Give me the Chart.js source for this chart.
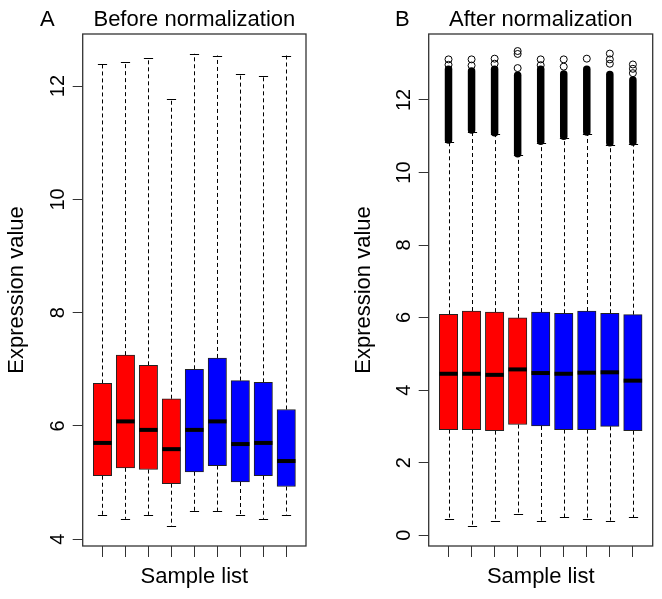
<!DOCTYPE html>
<html>
<head>
<meta charset="utf-8">
<script src="https://cdn.jsdelivr.net/npm/chart.js@4.4.0/dist/chart.umd.min.js"></script>
<style>
  html, body { margin: 0; padding: 0; background: #fff; }
  #wrap { position: relative; width: 662px; height: 599px; }
  canvas { position: absolute; top: 0; }
  #chartA { left: 0; }
  #chartB { left: 331px; }
</style>
</head>
<body>
<div id="wrap">
  <canvas id="chartA" width="331" height="599"></canvas>
  <canvas id="chartB" width="331" height="599"></canvas>
</div>
<script>
// sample positions and groups
const samples = [1, 2, 3, 4, 5, 6, 7, 8, 9]
const sampleGroup = ['case', 'case', 'case', 'case', 'control', 'control', 'control', 'control', 'control']

// A: before normalization
const lowA  = [4.43, 4.36, 4.43, 4.23, 4.50, 4.50, 4.43, 4.36, 4.43]
const q1A   = [5.12, 5.26, 5.23, 4.98, 5.19, 5.30, 5.01, 5.12, 4.93]
const medA  = [5.70, 6.08, 5.93, 5.59, 5.93, 6.08, 5.68, 5.70, 5.38]
const q3A   = [6.75, 7.25, 7.07, 6.48, 7.00, 7.20, 6.80, 6.77, 6.29]
const highA = [12.39, 12.42, 12.50, 11.78, 12.57, 12.54, 12.22, 12.18, 12.54]
const yTicksA = [4, 6, 8, 10, 12]

// B: after normalization
const lowB  = [0.44, 0.25, 0.40, 0.57, 0.40, 0.49, 0.44, 0.40, 0.49]
const q1B   = [2.91, 2.91, 2.88, 3.05, 3.01, 2.91, 2.91, 3.00, 2.88]
const medB  = [4.45, 4.45, 4.42, 4.57, 4.47, 4.45, 4.48, 4.49, 4.26]
const q3B   = [6.09, 6.18, 6.15, 5.99, 6.15, 6.12, 6.18, 6.12, 6.08]
const highB = [10.84, 11.12, 11.05, 10.47, 10.81, 10.95, 11.07, 10.77, 10.79]
// outliers: dense run (bottom..top) and the separate ones above it
const denseLoB = [10.90, 11.17, 11.10, 10.52, 10.86, 11.00, 11.12, 10.82, 10.84]
const denseHiB = [12.85, 12.80, 12.85, 12.68, 12.85, 12.72, 12.85, 12.70, 12.55]
const outliersB = [
  [13.12, 12.97],
  [13.12, 12.95],
  [13.14, 13.00],
  [13.35, 13.27, 12.88],
  [13.12, 12.96],
  [13.12, 12.92],
  [13.14],
  [13.28, 13.12, 13.00],
  [12.98, 12.86, 12.74]
]
const yTicksB = [0, 2, 4, 6, 8, 10, 12]

const groupColor = { case: '#ff0000', control: '#0000ff' }
const FONT = "'Liberation Sans', Arial, sans-serif"

const rBox = {
    id: 'rBox',
    beforeDatasetsDraw(chart, args, o) {
        const { ctx, scales: { x, y } } = chart
        const capHalf = o.boxWidth / 4
        ctx.save()
        ctx.strokeStyle = '#000'
        ctx.lineWidth = 1
        samples.forEach((s, i) => {
            const px = Math.round(x.getPixelForValue(s)) + 0.5
            // dashed whiskers
            ctx.setLineDash([4, 3])
            ctx.beginPath()
            ctx.moveTo(px, y.getPixelForValue(o.q3[i]))
            ctx.lineTo(px, y.getPixelForValue(o.high[i]))
            ctx.moveTo(px, y.getPixelForValue(o.q1[i]))
            ctx.lineTo(px, y.getPixelForValue(o.low[i]))
            ctx.stroke()
            // staples
            ctx.setLineDash([])
            ctx.beginPath()
            const hy = Math.round(y.getPixelForValue(o.high[i])) + 0.5
            const ly = Math.round(y.getPixelForValue(o.low[i])) + 0.5
            ctx.moveTo(px - capHalf, hy); ctx.lineTo(px + capHalf, hy)
            ctx.moveTo(px - capHalf, ly); ctx.lineTo(px + capHalf, ly)
            ctx.stroke()
        })
        // dense outlier runs
        if (o.denseLo) {
            ctx.lineCap = 'round'
            ctx.lineWidth = 7.5
            samples.forEach((s, i) => {
                const px = x.getPixelForValue(s)
                ctx.beginPath()
                ctx.moveTo(px, y.getPixelForValue(o.denseLo[i]))
                ctx.lineTo(px, y.getPixelForValue(o.denseHi[i]))
                ctx.stroke()
            })
        }
        ctx.restore()
    },
    afterDatasetsDraw(chart, args, o) {
        const { ctx, scales: { x, y } } = chart
        const half = o.boxWidth / 2
        ctx.save()
        ctx.strokeStyle = '#000'
        ctx.lineWidth = 4
        ctx.lineCap = 'butt'
        samples.forEach((s, i) => {
            const px = x.getPixelForValue(s)
            const py = y.getPixelForValue(o.med[i])
            ctx.beginPath()
            ctx.moveTo(px - half, py)
            ctx.lineTo(px + half, py)
            ctx.stroke()
        })
        ctx.restore()
    },
    afterDraw(chart, args, o) {
        const { ctx, chartArea: a, scales: { y } } = chart
        ctx.save()
        // plot frame
        ctx.strokeStyle = '#333'
        ctx.lineWidth = 1.3
        ctx.strokeRect(a.left, a.top, a.right - a.left, a.bottom - a.top)
        // y tick labels, parallel to the axis
        ctx.fillStyle = '#000'
        ctx.font = '20px ' + FONT
        ctx.textAlign = 'center'
        ctx.textBaseline = 'alphabetic'
        y.ticks.forEach(t => {
            ctx.save()
            ctx.translate(a.left - 26, y.getPixelForValue(t.value))
            ctx.rotate(-Math.PI / 2)
            ctx.fillText(String(t.value), 0, 7)
            ctx.restore()
        })
        // main title and panel letter
        ctx.font = '22px ' + FONT
        ctx.fillText(o.title, (a.left + a.right) / 2, 25.5)
        ctx.textAlign = 'left'
        ctx.fillText(o.letter, o.letterX, 25.5)
        ctx.restore()
    }
}

function makePanel(id, d) {
    const plotW = d.right - d.left
    const boxWidth = plotW / (9.86 - 0.14) * 0.8
    const outlierPts = []
    if (d.outliers) d.outliers.forEach((vals, i) => vals.forEach(v => outlierPts.push({ x: samples[i], y: v })))

    return new Chart(document.getElementById(id), {
        type: 'bar',
        data: {
            datasets: [{
                type: 'bar',
                data: samples.map((s, i) => ({ x: s, y: [d.q1[i], d.q3[i]] })),
                backgroundColor: sampleGroup.map(g => groupColor[g]),
                borderColor: '#222',
                borderWidth: 1,
                borderSkipped: false,
                barThickness: boxWidth
            }, {
                type: 'scatter',
                data: outlierPts,
                pointRadius: 3.5,
                pointBackgroundColor: 'rgba(0,0,0,0)',
                pointBorderColor: '#000',
                pointBorderWidth: 1
            }]
        },
        options: {
            responsive: false,
            animation: false,
            devicePixelRatio: 1,
            layout: { padding: { left: 0, right: 331 - d.right, top: 34, bottom: 0 } },
            scales: {
                x: {
                    type: 'linear',
                    offset: false,
                    min: 0.14,
                    max: 9.86,
                    afterBuildTicks: ax => { ax.ticks = samples.map(v => ({ value: v })) },
                    afterFit: ax => { ax.height = 599 - 546 },
                    ticks: { display: false },
                    grid: { drawOnChartArea: false, tickLength: 11, color: '#333', lineWidth: 1, offset: false },
                    border: { display: false },
                    title: { display: true, text: 'Sample list', color: '#000', font: { size: 22, family: FONT }, padding: { top: 0, bottom: 8.8 } }
                },
                y: {
                    type: 'linear',
                    min: d.yMin,
                    max: d.yMax,
                    afterBuildTicks: ax => { ax.ticks = d.yTicks.map(v => ({ value: v })) },
                    afterFit: ax => { ax.width = d.left },
                    ticks: { display: false },
                    grid: { drawOnChartArea: false, tickLength: 10, color: '#333', lineWidth: 1 },
                    border: { display: false },
                    title: { display: true, text: 'Expression value', color: '#000', font: { size: 22, family: FONT }, padding: { top: d.ylabPad, bottom: 0 } }
                }
            },
            plugins: {
                legend: { display: false },
                tooltip: { enabled: false },
                rBox: {
                    boxWidth,
                    low: d.low, q1: d.q1, med: d.med, q3: d.q3, high: d.high,
                    denseLo: d.denseLo, denseHi: d.denseHi,
                    title: d.title, letter: d.letter, letterX: d.letterX
                }
            }
        },
        plugins: [rBox]
    })
}

makePanel('chartA', {
    left: 82.7, right: 306, yMin: 3.88, yMax: 12.92, yTicks: yTicksA, ylabPad: 4,
    low: lowA, q1: q1A, med: medA, q3: q3A, high: highA,
    title: 'Before normalization', letter: 'A', letterX: 40
})

makePanel('chartB', {
    left: 97.7, right: 321.7, yMin: -0.3, yMax: 13.82, yTicks: yTicksB, ylabPad: 20,
    low: lowB, q1: q1B, med: medB, q3: q3B, high: highB,
    denseLo: denseLoB, denseHi: denseHiB, outliers: outliersB,
    title: 'After normalization', letter: 'B', letterX: 64
})
</script>
</body>
</html>
